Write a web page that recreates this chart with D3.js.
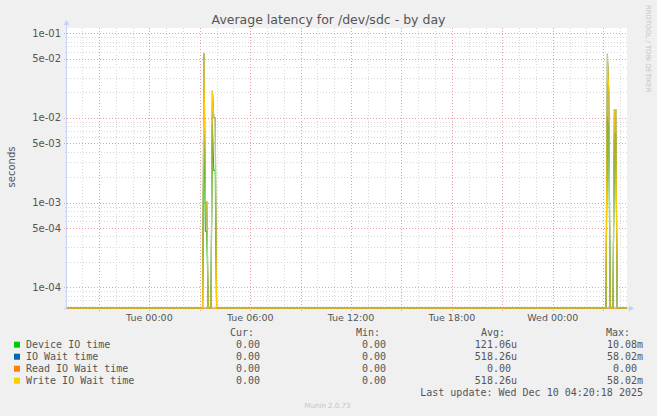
<!DOCTYPE html>
<html>
<head>
<meta charset="utf-8">
<script src="https://cdn.jsdelivr.net/npm/d3@7"></script>
<style>
    html, body { margin: 0; padding: 0; background: #f0f0f0; }
    svg { display: block; }
    text { font-family: 'DejaVu Sans', sans-serif; }
    .mono { font-family: 'DejaVu Sans Mono', monospace; }
</style>
</head>
<body>
<svg id="chart"></svg>
<script>
// samples (UTC), only around the two nightly bursts; every other sample is 0
const sampleTimes = [
    '2025-12-08 19:06', '2025-12-09 03:10', '2025-12-09 03:15', '2025-12-09 03:20',
    '2025-12-09 03:25', '2025-12-09 03:30', '2025-12-09 03:40', '2025-12-09 03:45',
    '2025-12-09 03:50', '2025-12-09 03:55', '2025-12-09 04:00', '2025-12-10 03:10',
    '2025-12-10 03:15', '2025-12-10 03:20', '2025-12-10 03:25', '2025-12-10 03:35',
    '2025-12-10 03:40', '2025-12-10 03:45', '2025-12-10 03:50', '2025-12-10 04:25',
];
const deviceIO = [0, 0, 0.01008, 0.00046, 0.00046, 0, 0, 0.0085, 0.0024, 0.0024, 0,
    0, 0.0105, 0.0072, 0, 0, 0.0066, 0.0066, 0, 0];
const ioWait = [0, 0, 0.05802, 0.00102, 0.00102, 0, 0, 0.021, 0.0101, 0.0101, 0,
    0, 0.0575, 0.0202, 0, 0, 0.0126, 0.0126, 0, 0];
const readIO = [0, 0, 0, 0, 0, 0, 0, 0, 0, 0, 0, 0, 0, 0, 0, 0, 0, 0, 0, 0];
const writeIO = [0, 0, 0.05802, 0.00102, 0.00102, 0, 0, 0.021, 0.0101, 0.0101, 0,
    0, 0.0575, 0.0202, 0, 0, 0.0126, 0.0126, 0, 0];

const seriesNames = ['Device IO time', 'IO Wait time', 'Read IO Wait time', 'Write IO Wait time'];
const seriesColors = ['#00cc00', '#0066b3', '#ff8000', '#ffcc00'];
const curVals = ['0.00', '0.00', '0.00', '0.00'];
const minVals = ['0.00', '0.00', '0.00', '0.00'];
const avgVals = ['121.06u', '518.26u', '0.00', '518.26u'];
const maxVals = ['10.08m', '58.02m', '0.00', '58.02m'];
const yTickLabels = ['1e-01', '5e-02', '1e-02', '5e-03', '1e-03', '5e-04', '1e-04'];
const timeDomain = ['2025-12-08 19:06', '2025-12-10 04:25'];
const yDomain = [5.7e-5, 0.1155];

const W = 657, H = 416;
const plot = { left: 67, right: 627, top: 28, bottom: 308 };

const svg = d3.select('#chart').attr('width', W).attr('height', H);
svg.append('rect').attr('width', W).attr('height', H).attr('fill', '#f0f0f0');

const parse = d3.utcParse('%Y-%m-%d %H:%M');
const x = d3.scaleUtc()
    .domain(timeDomain.map(parse))
    .range([plot.left, plot.right]);
const y = d3.scaleLog()
    .domain(yDomain)
    .range([plot.bottom, plot.top]);

svg.append('rect')
    .attr('x', plot.left).attr('y', plot.top)
    .attr('width', plot.right - plot.left)
    .attr('height', plot.bottom - plot.top)
    .attr('fill', '#ffffff');

// grid
const grid = svg.append('g').attr('shape-rendering', 'crispEdges');
const hours = d3.utcHour.range(x.domain()[0], x.domain()[1]);
const minorY = [];
for (let e = -5; e <= -1; e++) {
    for (let k = 1; k <= 9; k++) {
        const v = k * Math.pow(10, e);
        if (v >= yDomain[0] && v <= yDomain[1]) minorY.push(v);
    }
}
grid.selectAll('line.hx')
    .data(hours.filter(d => d.getUTCHours() % 3 !== 0))
    .join('line')
    .attr('x1', d => Math.round(x(d)) + 0.5).attr('x2', d => Math.round(x(d)) + 0.5)
    .attr('y1', plot.top).attr('y2', plot.bottom + 2)
    .attr('stroke', '#d8d8d8').attr('stroke-dasharray', '1,2');
grid.selectAll('line.vy')
    .data(minorY.filter(v => !yTickLabels.includes(d3.format('.0e')(v).replace(/e-(\d)$/, 'e-0$1'))))
    .join('line')
    .attr('x1', plot.left - 2).attr('x2', plot.right)
    .attr('y1', d => Math.round(y(d)) + 0.5).attr('y2', d => Math.round(y(d)) + 0.5)
    .attr('stroke', '#d8d8d8').attr('stroke-dasharray', '1,2');
grid.selectAll('line.mx')
    .data(hours.filter(d => d.getUTCHours() % 3 === 0))
    .join('line')
    .attr('x1', d => Math.round(x(d)) + 0.5).attr('x2', d => Math.round(x(d)) + 0.5)
    .attr('y1', plot.top).attr('y2', plot.bottom + 3)
    .attr('stroke', '#eaa0a0').attr('stroke-dasharray', '1,2');

const majorY = yTickLabels.map(s => +s);
grid.selectAll('line.my')
    .data(majorY)
    .join('line')
    .attr('x1', plot.left - 3).attr('x2', plot.right)
    .attr('y1', d => Math.round(y(d)) + 0.5).attr('y2', d => Math.round(y(d)) + 0.5)
    .attr('stroke', '#eaa0a0').attr('stroke-dasharray', '1,2');

// axes
const axisColor = '#c8d0f4';
svg.append('line')
    .attr('x1', plot.left - 0.5).attr('x2', plot.left - 0.5)
    .attr('y1', plot.bottom + 2).attr('y2', plot.top - 4)
    .attr('stroke', axisColor);
svg.append('line')
    .attr('x1', plot.left - 3).attr('x2', plot.right + 3)
    .attr('y1', plot.bottom + 0.5).attr('y2', plot.bottom + 0.5)
    .attr('stroke', axisColor);
svg.append('path')
    .attr('d', `M${plot.left - 3.5},${plot.top - 3} L${plot.left + 2.5},${plot.top - 3} L${plot.left - 0.5},${plot.top - 8} Z`)
    .attr('fill', axisColor);
svg.append('path')
    .attr('d', `M${plot.right + 2},${plot.bottom - 2.5} L${plot.right + 2},${plot.bottom + 3.5} L${plot.right + 7},${plot.bottom + 0.5} Z`)
    .attr('fill', axisColor);

// tick labels
svg.append('g')
    .selectAll('text')
    .data(yTickLabels)
    .join('text')
    .attr('x', 61)
    .attr('y', d => y(+d) + 3.5)
    .attr('text-anchor', 'end')
    .attr('font-size', 10)
    .attr('fill', '#555')
    .text(d => d);

const fmt = d3.utcFormat('%a %H:%M');
svg.append('g')
    .selectAll('text')
    .data(hours.filter(d => d.getUTCHours() % 6 === 0))
    .join('text')
    .attr('x', d => x(d))
    .attr('y', 321)
    .attr('text-anchor', 'middle')
    .attr('font-size', 9.5)
    .attr('fill', '#555')
    .text(d => fmt(d));

// series
const times = sampleTimes.map(parse);
const line = d3.line()
    .x(d => x(d.t))
    .y(d => y(Math.max(d.v, yDomain[0])));
[deviceIO, ioWait, readIO, writeIO].forEach((vals, i) => {
    svg.append('path')
        .datum(vals.map((v, j) => ({ t: times[j], v: v })))
        .attr('fill', 'none')
        .attr('stroke', seriesColors[i])
        .attr('stroke-width', 1.1)
        .attr('d', line);
});

// titles
svg.append('text')
    .attr('x', 328.5).attr('y', 24)
    .attr('text-anchor', 'middle')
    .attr('font-size', 12.5)
    .attr('fill', '#555')
    .text('Average latency for /dev/sdc - by day');
svg.append('text')
    .attr('transform', 'translate(15,167) rotate(-90)')
    .attr('text-anchor', 'middle')
    .attr('font-size', 10)
    .attr('fill', '#555')
    .text('seconds');
svg.append('text')
    .attr('transform', 'translate(645.5,5) rotate(90)')
    .attr('font-size', 6.8)
    .attr('fill', '#c4c4c4')
    .text('RRDTOOL / TOBI OETIKER');
svg.append('text')
    .attr('x', 327.5).attr('y', 408)
    .attr('text-anchor', 'middle')
    .attr('font-size', 7)
    .attr('fill', '#c4c4c4')
    .text('Munin 2.0.73');

// legend
const legend = svg.append('g').attr('class', 'mono').attr('font-size', 10).attr('fill', '#555');
const cols = [
    { head: 'Cur:', hx: 230, right: 266, vals: curVals },
    { head: 'Min:', hx: 356, right: 392, vals: minVals },
    { head: 'Avg:', hx: 481, right: 517, vals: avgVals },
    { head: 'Max:', hx: 606, right: 643, vals: maxVals },
];
const rowBase = [347.7, 359.7, 371.7, 383.7];
cols.forEach(c => {
    legend.append('text').attr('class', 'mono').attr('x', c.hx).attr('y', 336).text(c.head);
    c.vals.forEach((v, i) => {
        const suffixed = /[a-zA-Z]$/.test(v);
        legend.append('text')
            .attr('class', 'mono')
            .attr('x', suffixed ? c.right : c.right - 6.02)
            .attr('y', rowBase[i])
            .attr('text-anchor', 'end')
            .text(v);
    });
});
seriesNames.forEach((name, i) => {
    legend.append('rect')
        .attr('x', 14).attr('y', rowBase[i] - 6)
        .attr('width', 6).attr('height', 6)
        .attr('fill', seriesColors[i]);
    legend.append('text')
        .attr('class', 'mono')
        .attr('x', 26).attr('y', rowBase[i])
        .text(name);
});
legend.append('text')
    .attr('class', 'mono')
    .attr('x', 643).attr('y', 395.7)
    .attr('text-anchor', 'end')
    .text('Last update: Wed Dec 10 04:20:18 2025');
</script>
</body>
</html>
